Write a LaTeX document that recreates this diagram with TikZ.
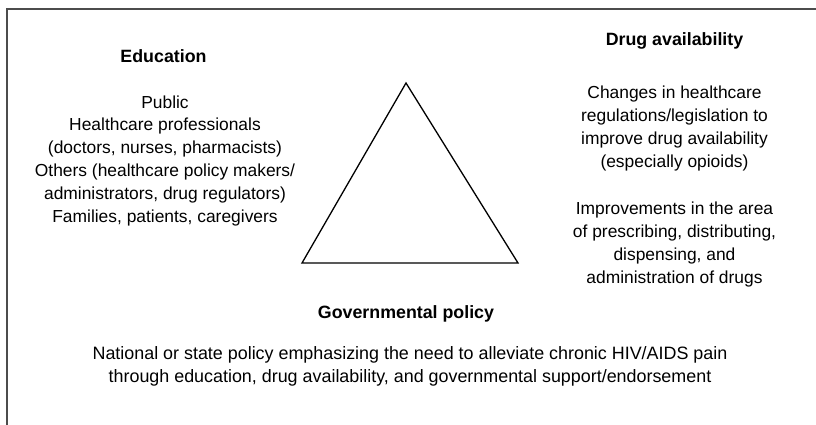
\documentclass[tikz,border=0pt]{standalone}
\usepackage{fontspec}
\setmainfont{Liberation Sans}
\begin{document}
\begin{tikzpicture}[x=1pt,y=-1pt,
  heading/.style={font=\fontsize{17.8}{22}\selectfont\bfseries, inner sep=0pt, anchor=base},
  bodytext/.style={font=\fontsize{17.4}{22.9}\selectfont, align=center, inner sep=0pt, anchor=north},
  frameline/.style={draw=black!70, line width=1.2pt},
  tri/.style={draw=black, line width=1.3pt, line join=miter}]
\useasboundingbox (0,0) rectangle (816,424);
\coordinate (fbl) at (7,430);
\coordinate (ftl) at (7,9);
\coordinate (ftr) at (822,9);
\draw[frameline] (fbl) -- (ftl) -- (ftr);
\coordinate (apex) at (406,83);
\coordinate (bl) at (302,263);
\coordinate (br) at (518,263);
\draw[tri] (apex) -- (bl) -- (br) -- cycle;
\node[heading] (edu) at (163.5,62) {Education};
\node[bodytext] (edubody) at (165,95.2) {Public\\Healthcare professionals\\(doctors, nurses, pharmacists)\\Others (healthcare policy makers/\\administrators, drug regulators)\\Families, patients, caregivers};
\node[heading] (drug) at (674.5,45) {Drug availability};
\node[bodytext] (drugbody1) at (674.5,85.5) {Changes in healthcare\\regulations/legislation to\\improve drug availability\\(especially opioids)};
\node[bodytext] (drugbody2) at (674.5,201.5) {Improvements in the area\\of prescribing, distributing,\\dispensing, and\\administration of drugs};
\node[heading] (gov) at (406,318) {Governmental policy};
\node[bodytext, font=\fontsize{17.9}{23}\selectfont] (govbody) at (410,346) {National or state policy emphasizing the need to alleviate chronic HIV/AIDS pain\\through education, drug availability, and governmental support/endorsement};
\end{tikzpicture}
\end{document}
